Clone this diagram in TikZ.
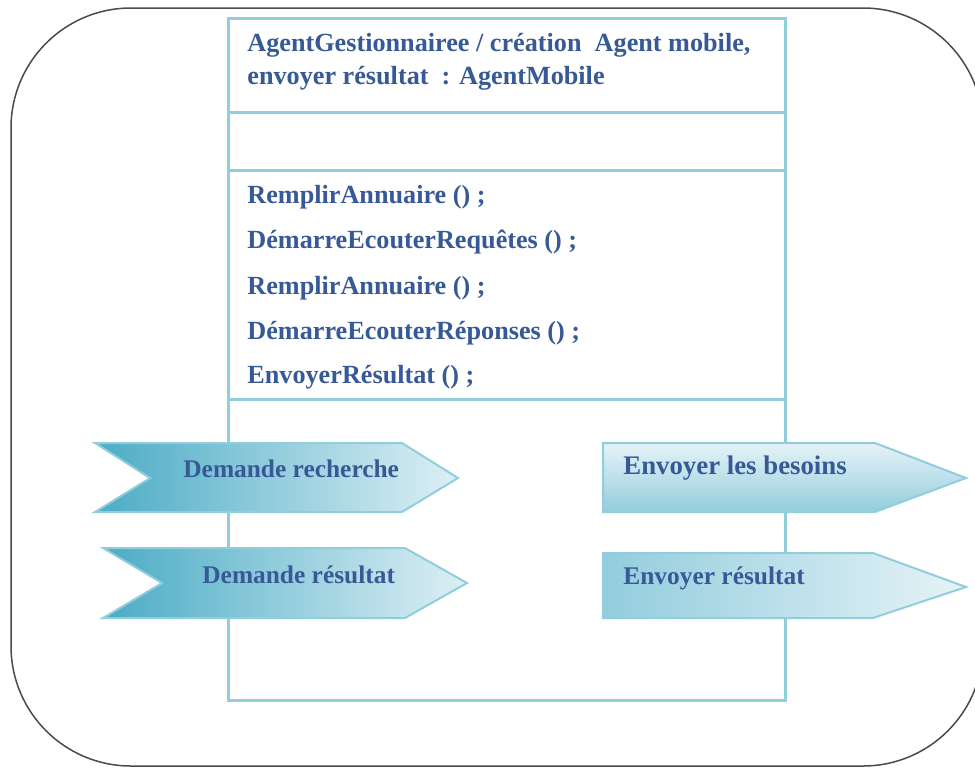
\documentclass[tikz,border=0pt]{standalone}
\usepackage{fontspec}
\setmainfont{Liberation Serif}
\definecolor{txt}{HTML}{375A96}
\definecolor{frame}{HTML}{92CDDC}
\definecolor{tealdark}{HTML}{4BACC6}
\definecolor{pale}{HTML}{DDEFF4}
\definecolor{paler}{HTML}{E6F3F7}
\definecolor{midblue}{HTML}{93CDDD}
\definecolor{outline}{HTML}{4A4A4A}
\begin{document}
\begin{tikzpicture}[x=0.5pt,y=-0.5pt,
  lbl/.style={font=\fontsize{13.1}{15}\selectfont\bfseries, text=txt, inner sep=0pt, anchor=base west},
  sig/.style={lbl, font=\fontsize{12.7}{15}\selectfont\bfseries},
  boxline/.style={draw=frame, line width=1.5pt},
  arrowedge/.style={draw=frame, line width=1pt, line join=miter}]
\useasboundingbox (0,0) rectangle (975,767);
\clip (0,0) rectangle (975,767);
% outer rounded frame
\draw[line width=0.75pt, draw=outline, rounded corners=60pt] (11,8) rectangle (983,766);
% class box
\node[boxline, fill=white, inner sep=0pt, outer sep=0pt, anchor=north west,
      minimum width=278.5pt, minimum height=341pt] (box) at (228,18) {};
\coordinate (s1) at (0,112);
\coordinate (s2) at (0,170);
\coordinate (s3) at (0,399);
\draw[boxline] (box.west |- s1) -- (box.east |- s1);
\draw[boxline] (box.west |- s2) -- (box.east |- s2);
\draw[boxline] (box.west |- s3) -- (box.east |- s3);
% texts in box
\node[lbl] (t1) at (247,51) {AgentGestionnairee / création\ \ Agent mobile,};
\node[lbl] (t2) at (247,84) {envoyer résultat\ \ : AgentMobile};
\node[lbl] (m1) at (247,203) {RemplirAnnuaire () ;};
\node[lbl] (m2) at (247,248) {DémarreEcouterRequêtes () ;};
\node[lbl] (m3) at (247,294) {RemplirAnnuaire () ;};
\node[lbl] (m4) at (247,339) {DémarreEcouterRéponses () ;};
\node[lbl] (m5) at (247,383) {EnvoyerRésultat () ;};
% incoming signals (left)
\shadedraw[arrowedge, left color=tealdark, right color=pale]
  (95,443) -- (402,443) -- (458,478) -- (402,512) -- (95,512) -- (150,478) -- cycle;
\shadedraw[arrowedge, left color=tealdark, right color=pale]
  (103,548) -- (405,548) -- (467,583) -- (405,618) -- (103,618) -- (162,583) -- cycle;
% outgoing signals (right)
\shadedraw[arrowedge, top color=paler, bottom color=midblue]
  (603,443) -- (875,443) -- (966,478) -- (875,512) -- (603,512) -- cycle;
\shadedraw[arrowedge, left color=midblue, right color=paler]
  (603,553) -- (873,553) -- (966,587) -- (873,618) -- (603,618) -- cycle;
\node[sig] (a1) at (183,477) {Demande recherche};
\node[sig] (a2) at (202,583) {Demande résultat};
\node[sig, font=\fontsize{13.4}{15}\selectfont\bfseries] (a3) at (623,474) {Envoyer les besoins};
\node[sig] (a4) at (623,584) {Envoyer résultat};
\end{tikzpicture}
\end{document}
